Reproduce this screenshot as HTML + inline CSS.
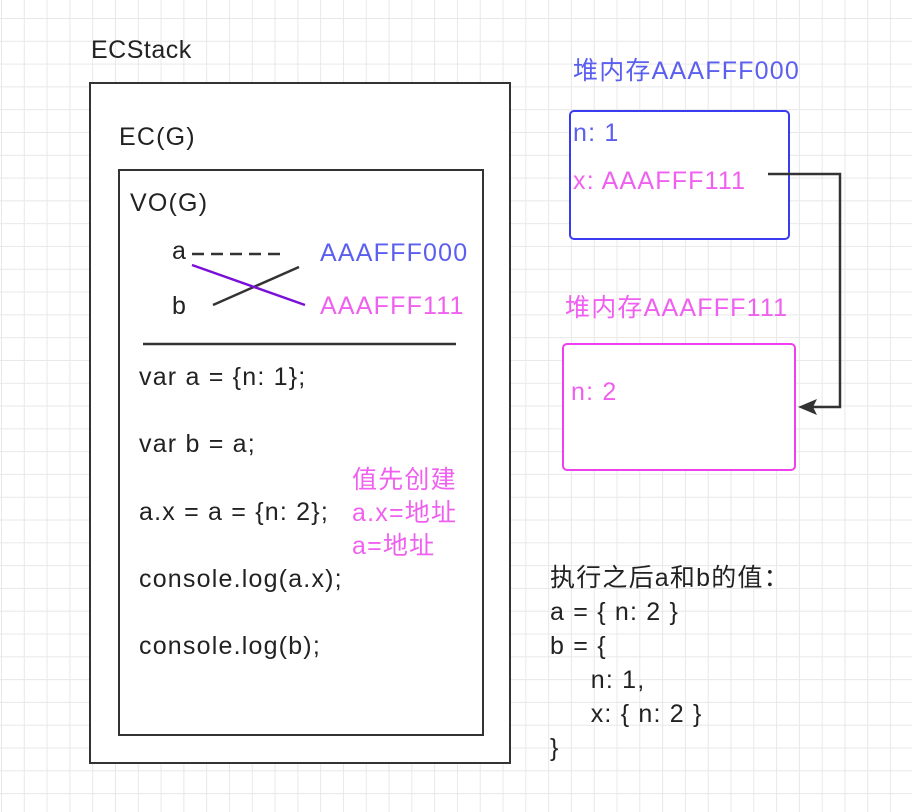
<!DOCTYPE html>
<html><head><meta charset="utf-8"><style>
body{margin:0;width:912px;height:812px;position:relative;overflow:hidden;background-color:#fff;
background-image:linear-gradient(#e8e8e8 1px,transparent 1px),linear-gradient(90deg,#e8e8e8 1px,transparent 1px);
background-size:22.8px 22.8px;background-position:1px 18px;
font-family:"Liberation Sans","Noto Sans CJK SC",sans-serif;font-size:25px;letter-spacing:1.2px;color:#222;}
.t{position:absolute;white-space:nowrap;line-height:1;}
.b{position:absolute;box-sizing:border-box;background:#fff;}
.bl{color:#5b5ff0}.pk{color:#f060f0}
</style></head><body>
<div class="t" style="left:91px;top:38px;letter-spacing:0.5px">ECStack</div>
<div class="b" style="left:89px;top:82px;width:422px;height:682px;border:2px solid #333"></div>
<div class="t" style="left:119px;top:125px">EC(G)</div>
<div class="b" style="left:118px;top:169px;width:366px;height:567px;border:2px solid #333"></div>
<div class="t" style="left:130px;top:191px">VO(G)</div>
<div class="t" style="left:172px;top:239px">a</div>
<div class="t" style="left:172px;top:294px">b</div>
<div class="t bl" style="left:320px;top:241px">AAAFFF000</div>
<div class="t pk" style="left:320px;top:294px">AAAFFF111</div>
<svg style="position:absolute;left:0;top:0" width="912" height="812">
<line x1="192" y1="254" x2="285" y2="254" stroke="#333" stroke-width="2.5" stroke-dasharray="12,7"/>
<line x1="213" y1="305" x2="299" y2="267" stroke="#333" stroke-width="2.5"/>
<line x1="192" y1="265" x2="305" y2="305" stroke="#7a10d8" stroke-width="2.5"/>
<line x1="143" y1="344" x2="456" y2="344" stroke="#333" stroke-width="2.5"/>
</svg>
<div class="t" style="left:139px;top:365px">var a = {n: 1};</div>
<div class="t" style="left:139px;top:432px">var b = a;</div>
<div class="t" style="left:139px;top:500px">a.x = a = {n: 2};</div>
<div class="t" style="left:139px;top:567px">console.log(a.x);</div>
<div class="t" style="left:139px;top:634px">console.log(b);</div>
<div class="t pk" style="left:352px;top:464px;line-height:33px">值先创建<br>a.x=地址<br>a=地址</div>
<div class="t bl" style="left:573px;top:59px">堆内存AAAFFF000</div>
<div class="b" style="left:569px;top:110px;width:221px;height:130px;border:2.5px solid #3a3af0;border-radius:5px"></div>
<div class="t bl" style="left:573px;top:121px">n: 1</div>
<div class="t pk" style="left:573px;top:169px">x: AAAFFF111</div>
<div class="t pk" style="left:565px;top:296px">堆内存AAAFFF111</div>
<div class="b" style="left:562px;top:343px;width:234px;height:128px;border:2.5px solid #ee40ee;border-radius:5px"></div>
<div class="t pk" style="left:571px;top:380px">n: 2</div>
<svg style="position:absolute;left:0;top:0" width="912" height="812">
<polyline points="768,174 840,174 840,407 812,407" fill="none" stroke="#333" stroke-width="2.5"/>
<polygon points="798,407 817,399 813,407 817,415" fill="#333"/>
</svg>
<div class="t" style="left:550px;top:561px;line-height:34px">执行之后a和b的值：<br>a = { n: 2 }<br>b = {<br>&nbsp;&nbsp;&nbsp;&nbsp;&nbsp;n: 1,<br>&nbsp;&nbsp;&nbsp;&nbsp;&nbsp;x: { n: 2 }<br>}</div>
</body></html>
